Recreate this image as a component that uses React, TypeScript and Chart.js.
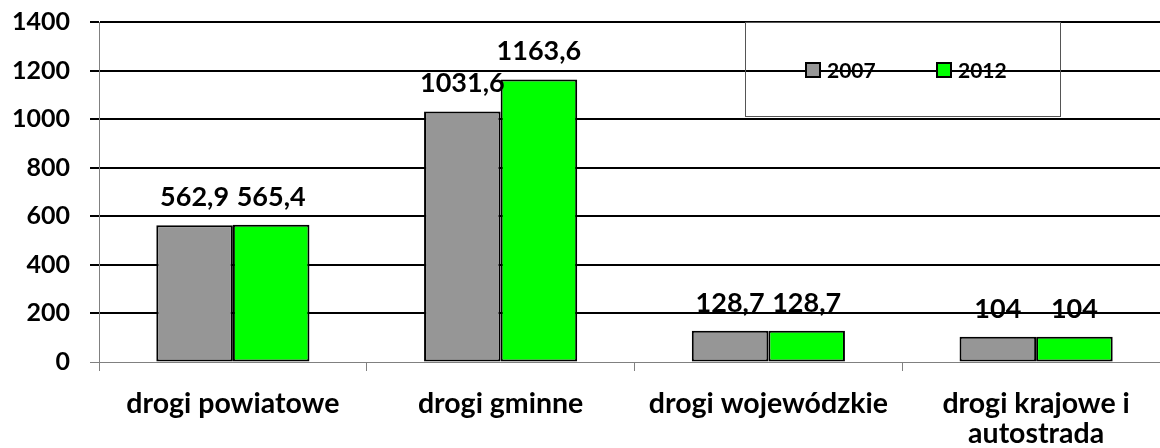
import React, { useEffect, useRef } from "react";
import { Chart, registerables } from "chart.js";

Chart.register(...registerables);

const categories: string[][] = [
  ["drogi powiatowe"],
  ["drogi gminne"],
  ["drogi wojewódzkie"],
  ["drogi krajowe i", "autostrada"],
];
const seriesNames = ["2007", "2012"];
const values2007 = [562.9, 1031.6, 128.7, 104];
const values2012 = [565.4, 1163.6, 128.7, 104];
const yMin = 0;
const yMax = 1400;
const yStep = 200;

const seriesColors = ["#969696", "#00FF00"];
const FONT = "Lato, 'Open Sans', sans-serif";

const fmt = (v: number) => String(v).replace(".", ",");

const dataLabelPlugin = {
  id: "dataLabels",
  afterDatasetsDraw(chart: any) {
    const ctx = chart.ctx;
    ctx.save();
    ctx.font = `bold 27px ${FONT}`;
    ctx.fillStyle = "#000";
    ctx.textAlign = "center";
    ctx.textBaseline = "alphabetic";
    chart.data.datasets.forEach((ds: any, i: number) => {
      const meta = chart.getDatasetMeta(i);
      meta.data.forEach((el: any, j: number) => {
        ctx.fillText(fmt(ds.data[j]), el.x, el.y - 19);
      });
    });
    ctx.restore();
  },
};

const legendBox = { x: 745, y: 22, w: 315, h: 94 };
const legendItems = [
  { markerX: 806, textX: 827 },
  { markerX: 937, textX: 958 },
];

const boxLegendPlugin = {
  id: "boxLegend",
  afterDraw(chart: any) {
    const ctx = chart.ctx;
    ctx.save();
    ctx.strokeStyle = "#555";
    ctx.lineWidth = 1;
    ctx.strokeRect(legendBox.x + 0.5, legendBox.y + 0.5, legendBox.w, legendBox.h);
    ctx.font = `bold 21px ${FONT}`;
    ctx.textAlign = "left";
    ctx.textBaseline = "alphabetic";
    chart.data.datasets.forEach((ds: any, i: number) => {
      const it = legendItems[i];
      ctx.fillStyle = ds.backgroundColor;
      ctx.fillRect(it.markerX, 63, 14, 14);
      ctx.strokeStyle = "#000";
      ctx.lineWidth = 2;
      ctx.strokeRect(it.markerX, 63, 14, 14);
      ctx.fillStyle = "#000";
      ctx.fillText(ds.label, it.textX, 78);
    });
    ctx.restore();
  },
};

export default function App() {
  const ref = useRef<HTMLCanvasElement | null>(null);
  useEffect(() => {
    if (!ref.current) return;
    const barStyle = {
      borderColor: "#000",
      borderWidth: 2,
      borderSkipped: false,
      categoryPercentage: 0.572,
      barPercentage: 1,
    };
    const chart = new Chart(ref.current, {
      type: "bar",
      data: {
        labels: categories,
        datasets: [
          {
            label: seriesNames[0],
            data: values2007,
            backgroundColor: seriesColors[0],
            ...barStyle,
          },
          {
            label: seriesNames[1],
            data: values2012,
            backgroundColor: seriesColors[1],
            ...barStyle,
          },
        ],
      },
      options: {
        animation: false,
        responsive: true,
        maintainAspectRatio: false,
        layout: { padding: { top: 22, right: 2, left: 0, bottom: 0 } },
        plugins: {
          legend: { display: false },
          tooltip: { enabled: false },
        },
        scales: {
          x: {
            ticks: {
              color: "#000",
              font: { family: FONT, weight: "bold", size: 28.5, lineHeight: 1.05 },
              padding: 18,
              maxRotation: 0,
              autoSkip: false,
            },
            grid: {
              offset: true,
              drawOnChartArea: false,
              color: "#808080",
              lineWidth: 1,
              tickLength: 9,
            },
            border: { color: "#808080", width: 1 },
            afterFit: (s: any) => {
              s.height = 86;
              s.paddingLeft = 0;
              s.paddingRight = 0;
            },
          },
          y: {
            min: yMin,
            max: yMax,
            ticks: {
              stepSize: yStep,
              color: "#000",
              font: { family: FONT, weight: "bold", size: 25 },
              padding: 20,
              callback: (v: any) => String(v),
            },
            grid: {
              color: (c: any) => (c.tick && c.tick.value === 0 ? "#808080" : "#000"),
              lineWidth: (c: any) => (c.tick && c.tick.value === 0 ? 1 : 2),
              tickLength: 9,
            },
            border: { color: "#808080", width: 1 },
            afterFit: (s: any) => {
              s.width = 99;
              s.paddingTop = 0;
              s.paddingBottom = 0;
            },
          },
        },
      },
      plugins: [dataLabelPlugin, boxLegendPlugin],
    });
    return () => chart.destroy();
  }, []);

  return (
    <div
      style={{
        position: "fixed",
        left: 0,
        top: 0,
        width: 1160,
        height: 448,
        overflow: "hidden",
        background: "#fff",
      }}
    >
      <div style={{ position: "relative", width: 1172, height: 448 }}>
        <canvas ref={ref} />
      </div>
    </div>
  );
}
